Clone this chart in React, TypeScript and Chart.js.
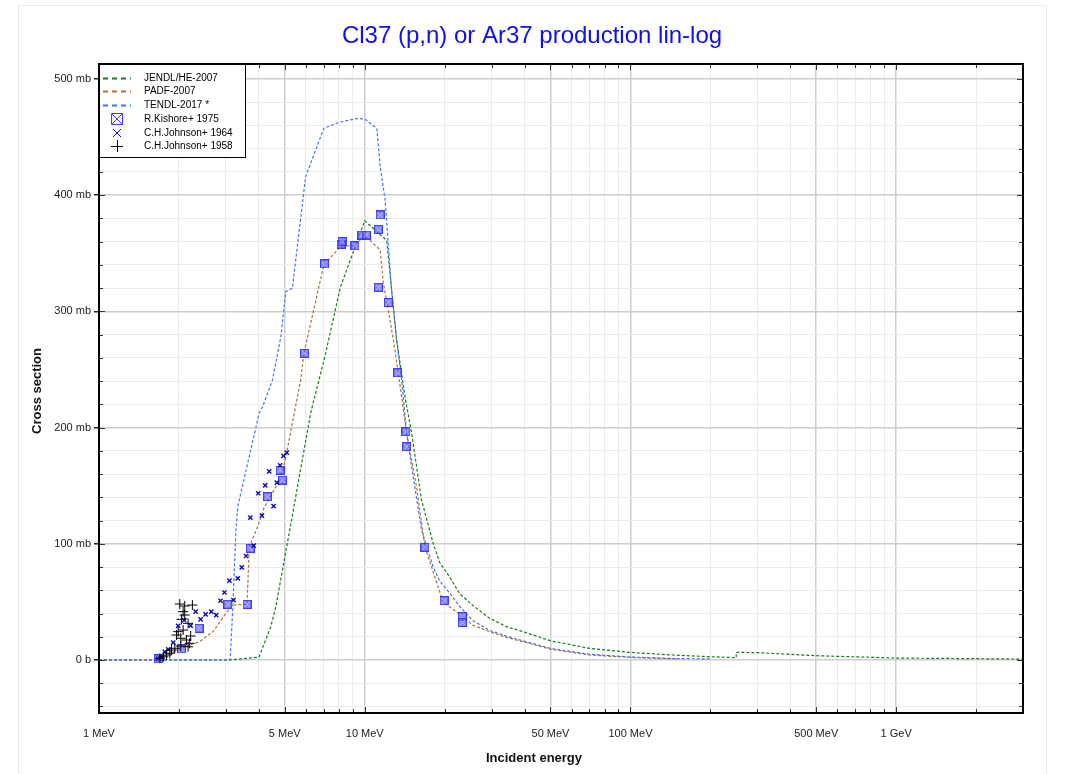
import React, { useEffect, useRef } from 'react';
import { Chart, registerables } from 'chart.js';

Chart.register(...registerables);

// ---------- text ----------
const TITLE = 'Cl37 (p,n) or Ar37 production lin-log';
const X_TITLE = 'Incident energy';
const Y_TITLE = 'Cross section';

// ---------- axes ----------
const X_MIN = 1;
const X_MAX = 3000;
const Y_MIN = -45.6;
const Y_MAX = 512.9;
const X_LABELED_TICKS = [1, 5, 10, 50, 100, 500, 1000];
const X_TICK_LABELS = ['1 MeV', '5 MeV', '10 MeV', '50 MeV', '100 MeV', '500 MeV', '1 GeV'];
const Y_LABELED_TICKS = [0, 100, 200, 300, 400, 500];
const Y_TICK_LABELS = ['0 b', '100 mb', '200 mb', '300 mb', '400 mb', '500 mb'];
const Y_MINOR_STEP = 20;

// ---------- evaluated data (energy MeV, cross section mb) ----------
const JENDL_HE_2007: [number, number][] = [
  [1, 0], [3.1, 0], [4.0, 2.5], [4.43, 28.7], [4.63, 46], [5.27, 117], [6.26, 212.6],
  [7.06, 260], [8.1, 321], [10, 378], [12.1, 361], [13.19, 275], [14.17, 226.6],
  [15.01, 195.4], [16.36, 137.7], [18.08, 100.7], [19.14, 84], [20.87, 71.4],
  [22.77, 57], [25.5, 47], [29.5, 36], [34.1, 28.7], [39.4, 24.4], [50.3, 16.4],
  [70.1, 10], [99, 6.6], [144, 4.3], [197, 2.9], [250, 2.0], [250, 6.6], [305, 6.3],
  [500, 3.7], [1000, 1.7], [3000, 0.8],
];

const PADF_2007: [number, number][] = [
  [1, 0], [1.647, 0], [1.672, 0.9], [2.043, 10.3], [2.383, 15.7], [2.685, 24.4],
  [3.009, 40.4], [3.189, 47.3], [3.606, 48], [3.678, 97.5], [3.954, 114.7],
  [4.175, 130.8], [4.83, 156.6], [5.05, 175], [5.74, 241], [5.904, 264], [7.016, 340],
  [8.1, 355.7], [9.21, 357], [10.0, 365.7], [11.43, 352.8], [11.76, 324], [12.27, 301],
  [12.82, 275], [13.38, 247], [14.38, 195], [15.67, 149], [16.84, 97.5], [19.71, 50],
  [23.41, 37.3], [25.5, 30], [29.5, 24.4], [34.1, 19.5], [39.4, 15.8], [50.3, 9.2],
  [70.1, 4.3], [99, 2.3], [144, 1.1], [150, 1.0],
];

const TENDL_2017: [number, number][] = [
  [1, 0], [3.115, 0], [3.189, 45.9], [3.281, 114.7], [3.329, 132], [3.628, 169.5],
  [4.009, 212.6], [4.128, 218], [4.498, 241], [4.832, 278], [5.045, 317], [5.343, 320],
  [5.993, 416], [7.016, 457.6], [8.1, 463], [9.35, 466], [10, 465.6], [11.1, 457.6],
  [11.43, 424.5], [11.93, 396], [12.64, 316], [13.19, 275], [13.77, 241], [14.38, 195],
  [15.22, 157.7], [16.36, 112], [18.08, 80.3], [19.14, 68], [20.87, 57.6], [22.77, 46],
  [24.1, 40], [25.5, 34], [29.5, 25.5], [34.1, 20.5], [39.4, 16.5], [50.3, 9.8],
  [70.1, 5], [99, 2.6], [144, 1.3], [200, 0.9],
];

// ---------- experimental data ----------
const KISHORE_1975: [number, number][] = [
  [1.672, 0.9], [2.043, 9.5], [2.379, 27.3], [3.054, 47.9], [3.606, 47.9], [3.71, 96.1],
  [4.31, 140.5], [4.903, 154.9], [4.803, 163.5], [5.94, 264], [7.056, 340.8],
  [8.147, 358], [8.22, 360], [9.19, 356.5], [9.76, 365.7], [10.13, 365.7],
  [11.26, 370.6], [11.43, 383], [11.26, 320.7], [12.27, 307.7], [13.31, 247.2],
  [14.29, 196.5], [14.38, 183.6], [16.84, 97], [19.88, 51], [23.28, 37.3], [23.28, 32.3],
];

const JOHNSON_1964: [number, number][] = [
  [1.672, 0.9], [1.72, 2.8], [1.77, 7.1], [1.822, 9.2], [1.902, 14.9], [1.986, 29.3],
  [2.091, 34.4], [2.213, 29.5], [2.31, 41.6], [2.412, 35], [2.518, 39.3], [2.645, 41.6],
  [2.761, 38.7], [2.866, 51], [2.966, 58.1], [3.096, 68.4], [3.206, 51.6], [3.329, 70.3],
  [3.445, 79.8], [3.576, 89.5], [3.82, 98.4], [3.71, 122.5], [4.104, 124.2],
  [4.538, 132.5], [3.974, 143.5], [4.222, 150.3], [4.67, 152.6], [4.37, 162.4],
  [4.803, 167.6], [4.945, 175.6], [5.089, 178.4],
];

const JOHNSON_1958: [number, number][] = [
  [2.013, 48.2], [2.102, 46.5], [2.246, 47.3], [2.073, 41.6], [2.043, 35], [2.102, 38.7],
  [2.164, 31.6], [1.986, 24.4], [2.073, 25.8], [1.957, 21.5], [2.031, 18.7], [2.133, 17.2],
  [2.213, 20.7], [2.194, 14.4], [2.164, 11.4], [2.031, 12], [1.929, 10.1], [1.875, 8.6],
  [1.847, 5.8], [1.796, 4.3], [1.746, 2.8], [1.695, 1.5],
];

const SERIES_NAMES = ['JENDL/HE-2007', 'PADF-2007', 'TENDL-2017 *', 'R.Kishore+ 1975', 'C.H.Johnson+ 1964', 'C.H.Johnson+ 1958'];
const COLORS = {
  jendl: 'rgb(20,125,30)',
  padf: 'rgb(175,115,55)',
  tendl: 'rgb(70,115,240)',
  kishore: 'rgb(60,60,250)',
  j1964: 'rgb(10,10,170)',
  j1958: 'rgb(0,0,0)',
  title: 'rgb(15,15,235)',
};

const FONT = '"Liberation Sans", Arial, Helvetica, sans-serif';

const toXY = (arr: [number, number][]) => arr.map(([x, y]) => ({ x, y }));

function makeKishoreMarker(): HTMLCanvasElement {
  const c = document.createElement('canvas');
  c.width = 9;
  c.height = 9;
  const g = c.getContext('2d')!;
  g.fillStyle = 'rgba(75,75,255,0.68)';
  g.fillRect(0, 0, 9, 9);
  g.strokeStyle = 'rgba(50,50,240,0.85)';
  g.lineWidth = 1;
  g.strokeRect(0.5, 0.5, 8, 8);
  g.strokeStyle = 'rgba(205,205,255,0.8)';
  g.beginPath();
  g.moveTo(2, 2); g.lineTo(7, 7);
  g.moveTo(7, 2); g.lineTo(2, 7);
  g.stroke();
  return c;
}

function allLogTicks(): number[] {
  const out: number[] = [];
  for (let p = 1; p <= 1000; p *= 10) {
    for (let m = 1; m <= 9; m++) {
      const v = m * p;
      if (v >= X_MIN && v <= X_MAX) out.push(v);
    }
  }
  return out;
}

function allYTicks(): number[] {
  const out: number[] = [];
  const start = Math.ceil(Y_MIN / Y_MINOR_STEP) * Y_MINOR_STEP;
  for (let v = start; v <= Y_MAX; v += Y_MINOR_STEP) out.push(v);
  return out;
}

const decorPlugin = {
  id: 'decor',
  afterDatasetsDraw(chart: any) {
    const { ctx, chartArea } = chart;
    const { left, right, top, bottom } = chartArea;
    const xs = chart.scales.x;
    const ys = chart.scales.y;
    ctx.save();
    // inside ticks
    ctx.strokeStyle = '#333';
    ctx.lineWidth = 1;
    ctx.beginPath();
    for (const v of allLogTicks()) {
      const px = Math.round(xs.getPixelForValue(v)) + 0.5;
      const len = X_LABELED_TICKS.includes(v) ? 6 : 4;
      ctx.moveTo(px, bottom); ctx.lineTo(px, bottom - len);
      ctx.moveTo(px, top); ctx.lineTo(px, top + len);
    }
    for (const v of allYTicks()) {
      const py = Math.round(ys.getPixelForValue(v)) + 0.5;
      const len = v % 100 === 0 ? 6 : 4;
      ctx.moveTo(left, py); ctx.lineTo(left + len, py);
      ctx.moveTo(right, py); ctx.lineTo(right - len, py);
    }
    ctx.stroke();
    // frame
    ctx.strokeStyle = '#000';
    ctx.lineWidth = 2;
    ctx.strokeRect(left, top, right - left, bottom - top);

    // legend
    const lx = left, ly = top, lw = 146, lh = 93;
    ctx.fillStyle = '#fff';
    ctx.fillRect(lx, ly, lw, lh);
    ctx.strokeStyle = '#000';
    ctx.lineWidth = 1;
    ctx.strokeRect(lx + 0.5, ly + 0.5, lw, lh);
    const rows = [78, 91, 105, 119, 133, 146];
    const symX0 = 103, symX1 = 131, symC = 117, textX = 144;
    ctx.font = `10px ${FONT}`;
    ctx.textBaseline = 'middle';
    ctx.textAlign = 'left';
    const lineCols = [COLORS.jendl, COLORS.padf, COLORS.tendl];
    for (let i = 0; i < 3; i++) {
      ctx.save();
      ctx.strokeStyle = lineCols[i];
      ctx.lineWidth = 2;
      ctx.setLineDash([5, 4]);
      ctx.beginPath();
      ctx.moveTo(symX0, rows[i] + 0.5);
      ctx.lineTo(symX1, rows[i] + 0.5);
      ctx.stroke();
      ctx.restore();
    }
    // Kishore symbol
    ctx.strokeStyle = COLORS.kishore;
    ctx.lineWidth = 1;
    ctx.beginPath();
    ctx.rect(symC - 5.5, rows[3] - 5.5, 11, 11);
    ctx.moveTo(symC - 5, rows[3] - 5); ctx.lineTo(symC + 5, rows[3] + 5);
    ctx.moveTo(symC + 5, rows[3] - 5); ctx.lineTo(symC - 5, rows[3] + 5);
    ctx.stroke();
    // Johnson 1964 x
    ctx.strokeStyle = COLORS.j1964;
    ctx.beginPath();
    ctx.moveTo(symC - 4, rows[4] - 4); ctx.lineTo(symC + 4, rows[4] + 4);
    ctx.moveTo(symC + 4, rows[4] - 4); ctx.lineTo(symC - 4, rows[4] + 4);
    ctx.stroke();
    // Johnson 1958 +
    ctx.strokeStyle = COLORS.j1958;
    ctx.beginPath();
    ctx.moveTo(symC - 6, rows[5] + 0.5); ctx.lineTo(symC + 6, rows[5] + 0.5);
    ctx.moveTo(symC + 0.5, rows[5] - 6); ctx.lineTo(symC + 0.5, rows[5] + 6);
    ctx.stroke();
    ctx.fillStyle = '#000';
    SERIES_NAMES.forEach((n, i) => ctx.fillText(n, textX, rows[i] + 0.5));
    ctx.restore();
  },
  afterDraw(chart: any) {
    const { ctx } = chart;
    ctx.save();
    ctx.fillStyle = COLORS.title;
    ctx.font = `24px ${FONT}`;
    ctx.textAlign = 'center';
    ctx.textBaseline = 'middle';
    ctx.fillText(TITLE, 532, 36);
    ctx.fillStyle = '#111';
    ctx.font = `bold 13px ${FONT}`;
    ctx.fillText(X_TITLE, 534, 758);
    ctx.translate(37, 391);
    ctx.rotate(-Math.PI / 2);
    ctx.fillText(Y_TITLE, 0, 0);
    ctx.restore();
  },
};

export default function App() {
  const ref = useRef<HTMLCanvasElement | null>(null);
  useEffect(() => {
    if (!ref.current) return;
    const marker = makeKishoreMarker();
    const curve = (label: string, data: [number, number][], color: string, order: number) => ({
      label,
      data: toXY(data),
      showLine: true,
      borderColor: color,
      backgroundColor: color,
      borderWidth: 1.2,
      borderDash: [3, 2],
      pointRadius: 0,
      pointHoverRadius: 0,
      fill: false,
      tension: 0,
      order,
    });
    const chart = new Chart(ref.current, {
      type: 'scatter',
      data: {
        datasets: [
          curve(SERIES_NAMES[0], JENDL_HE_2007, COLORS.jendl, 6),
          curve(SERIES_NAMES[1], PADF_2007, COLORS.padf, 5),
          curve(SERIES_NAMES[2], TENDL_2017, COLORS.tendl, 4),
          {
            label: SERIES_NAMES[3],
            data: toXY(KISHORE_1975),
            pointStyle: marker as any,
            pointRadius: 4.5,
            showLine: false,
            order: 3,
          },
          {
            label: SERIES_NAMES[4],
            data: toXY(JOHNSON_1964),
            pointStyle: 'crossRot',
            pointRadius: 3,
            borderColor: COLORS.j1964,
            backgroundColor: COLORS.j1964,
            pointBorderWidth: 1.4,
            showLine: false,
            order: 2,
          },
          {
            label: SERIES_NAMES[5],
            data: toXY(JOHNSON_1958),
            pointStyle: 'cross',
            pointRadius: 5,
            borderColor: COLORS.j1958,
            backgroundColor: COLORS.j1958,
            pointBorderWidth: 1,
            showLine: false,
            order: 1,
          },
        ] as any,
      },
      options: {
        animation: false,
        responsive: false,
        devicePixelRatio: 1,
        layout: { padding: { top: 64, right: 48, bottom: 0, left: 0 } },
        plugins: {
          legend: { display: false },
          title: { display: false },
          tooltip: { enabled: false },
        },
        scales: {
          x: {
            type: 'logarithmic',
            min: X_MIN,
            max: X_MAX,
            afterBuildTicks: (s: any) => { s.ticks = allLogTicks().map((v) => ({ value: v })); },
            afterFit: (s: any) => { s.height = 61; },
            border: { display: false },
            grid: {
              drawTicks: false,
              color: (c: any) => (X_LABELED_TICKS.includes(c.tick?.value) ? '#cdcdcd' : '#ececec'),
              lineWidth: (c: any) => (X_LABELED_TICKS.includes(c.tick?.value) ? 1.5 : 1),
            },
            ticks: {
              autoSkip: false,
              maxRotation: 0,
              minRotation: 0,
              padding: 14,
              color: '#222',
              font: { family: FONT, size: 11 },
              callback: (v: any) => {
                const i = X_LABELED_TICKS.indexOf(Number(v));
                return i >= 0 ? X_TICK_LABELS[i] : '';
              },
            },
          },
          y: {
            type: 'linear',
            min: Y_MIN,
            max: Y_MAX,
            afterBuildTicks: (s: any) => { s.ticks = allYTicks().map((v) => ({ value: v })); },
            afterFit: (s: any) => { s.width = 99; },
            border: { display: false },
            grid: {
              drawTicks: true,
              tickLength: 5,
              tickColor: (c: any) => (Y_LABELED_TICKS.includes(c.tick?.value) ? '#222' : 'rgba(0,0,0,0)'),
              color: (c: any) => (Y_LABELED_TICKS.includes(c.tick?.value) ? '#cdcdcd' : '#ececec'),
              lineWidth: (c: any) => (Y_LABELED_TICKS.includes(c.tick?.value) ? 1.5 : 1),
            },
            ticks: {
              autoSkip: false,
              padding: 3,
              color: '#222',
              font: { family: FONT, size: 11 },
              callback: (v: any) => {
                const i = Y_LABELED_TICKS.indexOf(Number(v));
                return i >= 0 ? Y_TICK_LABELS[i] : '';
              },
            },
          },
        },
      } as any,
      plugins: [decorPlugin],
    });
    return () => chart.destroy();
  }, []);

  return (
    <div style={{ position: 'absolute', left: 0, top: 0, width: 1071, height: 774, background: '#fff', overflow: 'hidden' }}>
      <div style={{ position: 'absolute', left: 18, top: 5, width: 1027, height: 820, border: '1px solid #ececec' }} />
      <canvas ref={ref} width={1071} height={774} style={{ position: 'absolute', left: 0, top: 0, width: 1071, height: 774 }} />
    </div>
  );
}
